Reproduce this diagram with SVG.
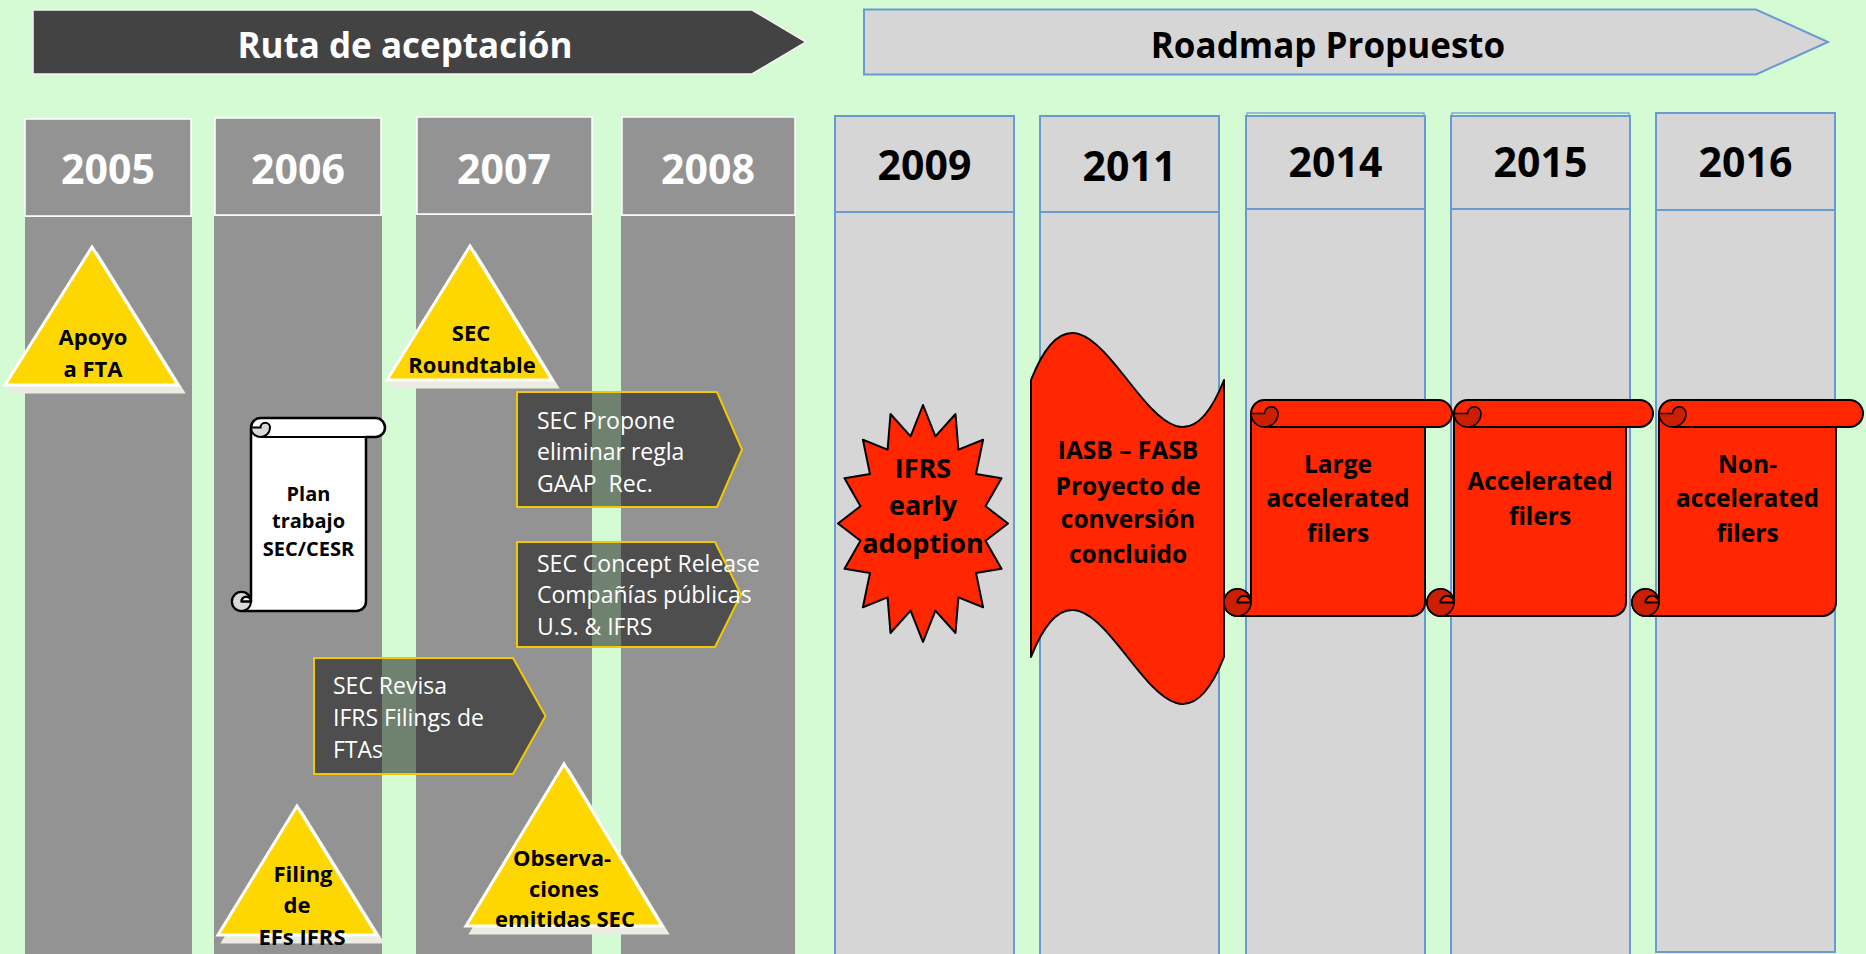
<svg xmlns="http://www.w3.org/2000/svg" width="1866" height="954" viewBox="0 0 1866 954">
<style>
text{font-family:"Open Sans","Liberation Sans",sans-serif}
.lhead{fill:#939393;stroke:#ffffff;stroke-width:1.5}
.lbody{fill:#939393}
.rcol{fill:#d6d6d6;stroke:#6a9bd0;stroke-width:2}
.rcol2{fill:none;stroke:#7fa8d6;stroke-width:1.5}
.yw{fill:#ffffff;font-weight:700;font-size:41px;text-anchor:middle}
.yk{fill:#000000;font-weight:700;font-size:41px;text-anchor:middle}
.tri{fill:#ffd700;stroke:#ffffff;stroke-width:3;stroke-linejoin:miter}
.trish{fill:#ecece2;stroke:#ecece2;stroke-width:3}
.tt{fill:#000;font-weight:700;font-size:22px;text-anchor:middle}
.pent{fill:#0a0a0a;fill-opacity:0.5;stroke:#f2c900;stroke-width:2}
.pt{fill:#ffffff;font-size:23px}
.red{fill:#ff2600;stroke:#000;stroke-width:2;stroke-linejoin:round}
.dred{fill:#cc1e00;stroke:#000;stroke-width:1.6}
.wht{fill:#ffffff;stroke:#000;stroke-width:2.5;stroke-linejoin:round}
.lgr{fill:#d9d9d9;stroke:#000;stroke-width:2}
.ln{fill:none;stroke:#000;stroke-width:2}
.st{fill:#000;font-weight:700;font-size:24.5px;text-anchor:middle}
</style>
<rect x="0" y="0" width="1866" height="954" fill="#d4fbd4"/>

<g id="col-2005"><rect class="lbody" x="25" y="217" width="167" height="740"/><rect class="lhead" x="25" y="119" width="166" height="97"/><text class="yw" x="108" y="184">2005</text></g>
<g id="col-2006"><rect class="lbody" x="214" y="216" width="168" height="740"/><rect class="lhead" x="215" y="118" width="166" height="97"/><text class="yw" x="298" y="184">2006</text></g>
<g id="col-2007"><rect class="lbody" x="416" y="215" width="176" height="740"/><rect class="lhead" x="417" y="117" width="175" height="97"/><text class="yw" x="504" y="184">2007</text></g>
<g id="col-2008"><rect class="lbody" x="621" y="216" width="174" height="740"/><rect class="lhead" x="622" y="117" width="173" height="98"/><text class="yw" x="708" y="184">2008</text></g>

<g id="col-2009"><rect class="rcol" x="835" y="212" width="179" height="750"/><rect class="rcol" x="835" y="116" width="179" height="96"/><text class="yk" x="924.5" y="180">2009</text></g>
<g id="col-2011"><rect class="rcol" x="1040" y="212" width="179" height="750"/><rect class="rcol" x="1040" y="116" width="179" height="96"/><text class="yk" x="1129.5" y="181">2011</text></g>
<g id="col-2014"><rect class="rcol" x="1246" y="209" width="179" height="750"/><rect class="rcol2" x="1247" y="113" width="177" height="96"/><rect class="rcol" x="1246" y="116" width="179" height="93"/><text class="yk" x="1335.5" y="177">2014</text></g>
<g id="col-2015"><rect class="rcol" x="1451" y="209" width="179" height="750"/><rect class="rcol2" x="1452" y="113" width="177" height="96"/><rect class="rcol" x="1451" y="116" width="179" height="93"/><text class="yk" x="1540.5" y="177">2015</text></g>
<g id="col-2016"><rect class="rcol" x="1656" y="210" width="179" height="742"/><rect class="rcol" x="1656" y="113" width="179" height="97"/><text class="yk" x="1745.5" y="177">2016</text></g>

<g id="ruta-arrow"><polygon points="33,10 752,10 806,42 752,74 33,74" fill="#434343" stroke="#f4f4f4" stroke-width="1.5"/><text x="405" y="58" fill="#ffffff" font-weight="700" font-size="35" text-anchor="middle">Ruta de aceptación</text></g>
<g id="roadmap-arrow"><polygon points="864,9.5 1756,9.5 1828,42 1756,74.5 864,74.5" fill="#d6d6d6" stroke="#6a9bd0" stroke-width="2"/><text x="1328" y="58" fill="#000000" font-weight="700" font-size="35" text-anchor="middle">Roadmap Propuesto</text></g>

<g id="apoyo-fta"><polygon class="trish" points="97,254 183,392 10,392"/><polygon class="tri" points="92,247 178,385 5,385"/><text class="tt" x="93" y="345">Apoyo</text><text class="tt" x="93" y="377">a FTA</text></g>

<g id="sec-roundtable"><polygon class="trish" points="475,253 557,387 392,387"/><polygon class="tri" points="470,246 552,380 387,380"/><text class="tt" x="471" y="341">SEC</text><text class="tt" x="472" y="373">Roundtable</text></g>

<g id="plan-trabajo">
<path class="wht" d="M241.5,611 L356.5,611 A9.5,9.5 0 0 0 366,601.5 L366,437 L375.5,437 A9.5,9.5 0 0 0 375.5,418 L260.5,418 A9.5,9.5 0 0 0 251,427.5 L251,601.5 A9.5,9.5 0 1 0 241.5,611 Z"/>
<path class="lgr" d="M251,427.5 A9.5,9.5 0 0 0 270,427.5 A4.75,4.75 0 0 0 260.5,427.5 Z"/>
<path class="ln" d="M260.5,437 L366,437"/>
<circle class="lgr" cx="241.5" cy="601.5" r="9.5"/>
<path class="wht" stroke-width="2" d="M241.5,601.5 A4.75,4.75 0 0 1 251,601.5 Z"/>
<text class="tt" x="308.5" y="501" style="font-size:20px">Plan</text>
<text class="tt" x="308.5" y="528" style="font-size:20px">trabajo</text>
<text class="tt" x="308.5" y="556" style="font-size:20px">SEC/CESR</text>
</g>

<g id="sec-propone"><polygon class="pent" points="517,392 717,392 742,449.5 717,507 517,507"/><text class="pt" x="537" y="429">SEC Propone</text><text class="pt" x="537" y="460">eliminar regla</text><text class="pt" x="537" y="492" xml:space="preserve">GAAP  Rec.</text></g>

<g id="sec-concept"><polygon class="pent" points="517,542 715,542 741,594.5 715,647 517,647"/><text class="pt" x="537" y="572">SEC Concept Release</text><text class="pt" x="537" y="603">Compañías públicas</text><text class="pt" x="537" y="635">U.S. &amp; IFRS</text></g>

<g id="sec-revisa"><polygon class="pent" points="314,658 513,658 545.5,716 513,774 314,774"/><text class="pt" x="333" y="694">SEC Revisa</text><text class="pt" x="333" y="726">IFRS Filings de</text><text class="pt" x="333" y="758">FTAs</text></g>

<g id="filing-efs"><polygon class="trish" points="302,813 382,942 223,942"/><polygon class="tri" points="297,806 377,935 218,935"/><text class="tt" x="303" y="882">Filing</text><text class="tt" x="297" y="913">de</text><text class="tt" x="302" y="945">EFs IFRS</text></g>

<g id="observaciones"><polygon class="trish" points="569,771 667,933 471,933"/><polygon class="tri" points="564,764 662,926 466,926"/><text class="tt" x="562" y="866">Observa-</text><text class="tt" x="564" y="897">ciones</text><text class="tt" x="565" y="927">emitidas SEC</text></g>

<g id="ifrs-early"><polygon class="red" points="923,405 935.4,436.3 955.5,414 958.4,449.6 983.1,439.7 976,474.1 1001.5,478.2 985.5,506.2 1008,523.5 985.5,540.8 1001.5,568.8 976,572.9 983.1,607.3 958.4,597.4 955.5,633 935.4,610.7 923,642 910.6,610.7 890.5,633 887.6,597.4 862.9,607.3 870,572.9 844.5,568.8 860.5,540.8 838,523.5 860.5,506.2 844.5,478.2 870,474.1 862.9,439.7 887.6,449.6 890.5,414 910.6,436.3"/><text class="st" x="923" y="478" style="font-size:27px">IFRS</text><text class="st" x="923" y="515" style="font-size:27px">early</text><text class="st" x="923" y="553" style="font-size:27px">adoption</text></g>

<g id="iasb-fasb"><path class="red" stroke-width="1.6" d="M1031,380 C1095.3,217 1159.7,543 1224,380 L1224,657 C1159.7,820 1095.3,494 1031,657 Z"/><text class="st" x="1128" y="459">IASB – FASB</text><text class="st" x="1128" y="495">Proyecto de</text><text class="st" x="1128" y="528">conversión</text><text class="st" x="1128" y="563">concluido</text></g>

<g id="large-accelerated">
<path class="red" d="M1237.5,616 L1411.5,616 A13.5,13.5 0 0 0 1425,602.5 L1425,427 L1438.5,427 A13.5,13.5 0 0 0 1438.5,400 L1264.5,400 A13.5,13.5 0 0 0 1251,413.5 L1251,602.5 A13.5,13.5 0 1 0 1237.5,616 Z"/>
<path class="dred" d="M1251,413.5 A13.5,13.5 0 0 0 1278,413.5 A6.75,6.75 0 0 0 1264.5,413.5 Z"/>
<path class="ln" d="M1264.5,427 L1425,427"/>
<circle class="dred" cx="1237.5" cy="602.5" r="13.5"/>
<path class="red" stroke-width="1.6" d="M1237.5,602.5 A6.75,6.75 0 0 1 1251,602.5 Z"/>
<text class="st" x="1338" y="473">Large</text><text class="st" x="1338" y="507">accelerated</text><text class="st" x="1338" y="542">filers</text>
</g>

<g id="accelerated">
<path class="red" d="M1440.5,616 L1612.5,616 A13.5,13.5 0 0 0 1626,602.5 L1626,427 L1639.5,427 A13.5,13.5 0 0 0 1639.5,400 L1467.5,400 A13.5,13.5 0 0 0 1454,413.5 L1454,602.5 A13.5,13.5 0 1 0 1440.5,616 Z"/>
<path class="dred" d="M1454,413.5 A13.5,13.5 0 0 0 1481,413.5 A6.75,6.75 0 0 0 1467.5,413.5 Z"/>
<path class="ln" d="M1467.5,427 L1626,427"/>
<circle class="dred" cx="1440.5" cy="602.5" r="13.5"/>
<path class="red" stroke-width="1.6" d="M1440.5,602.5 A6.75,6.75 0 0 1 1454,602.5 Z"/>
<text class="st" x="1540" y="490">Accelerated</text><text class="st" x="1540" y="525">filers</text>
</g>

<g id="non-accelerated">
<path class="red" d="M1645.5,616 L1822.5,616 A13.5,13.5 0 0 0 1836,602.5 L1836,427 L1849.5,427 A13.5,13.5 0 0 0 1849.5,400 L1672.5,400 A13.5,13.5 0 0 0 1659,413.5 L1659,602.5 A13.5,13.5 0 1 0 1645.5,616 Z"/>
<path class="dred" d="M1659,413.5 A13.5,13.5 0 0 0 1686,413.5 A6.75,6.75 0 0 0 1672.5,413.5 Z"/>
<path class="ln" d="M1672.5,427 L1836,427"/>
<circle class="dred" cx="1645.5" cy="602.5" r="13.5"/>
<path class="red" stroke-width="1.6" d="M1645.5,602.5 A6.75,6.75 0 0 1 1659,602.5 Z"/>
<text class="st" x="1747.5" y="473">Non-</text><text class="st" x="1747.5" y="507">accelerated</text><text class="st" x="1747.5" y="542">filers</text>
</g>

<g id="connectors"></g>
</svg>
